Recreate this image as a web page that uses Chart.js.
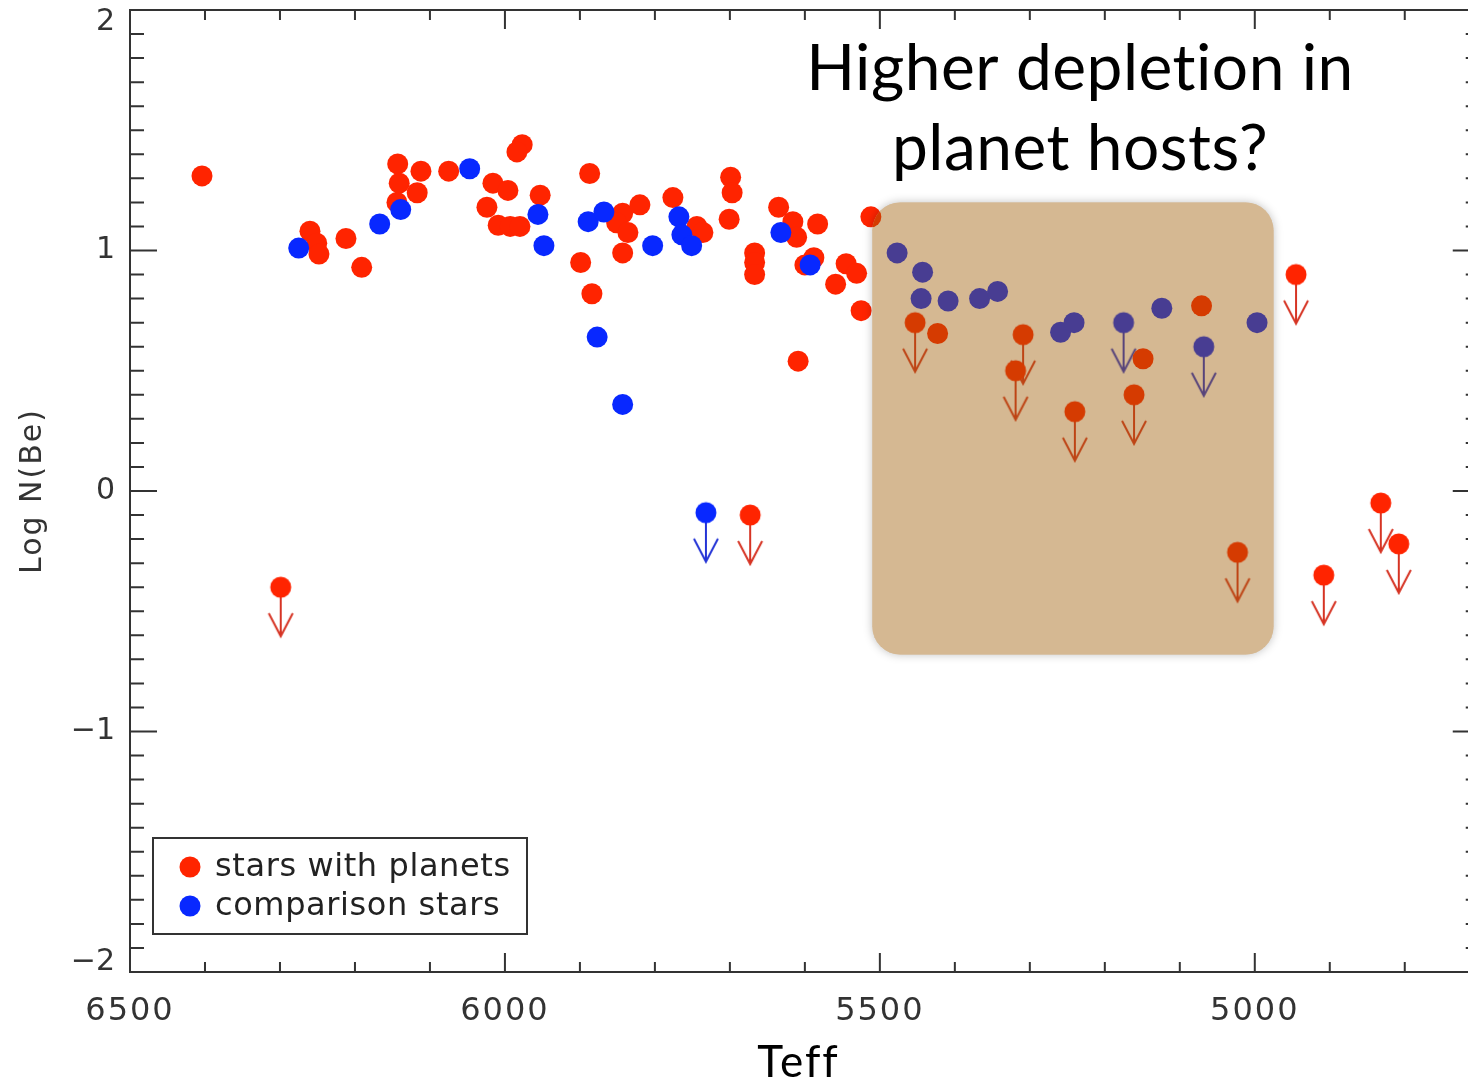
<!DOCTYPE html>
<html>
<head>
<meta charset="utf-8">
<title>Log N(Be) vs Teff</title>
<script src="https://cdn.jsdelivr.net/npm/chart.js@4.4.0/dist/chart.umd.min.js"></script>
<style>
  html, body { margin: 0; background: #fff; overflow: hidden; }
  #myChart { display: block; }
</style>
</head>
<body>
<canvas id="myChart" width="1468" height="1083"></canvas>
<script>
// stars with planets, Be detections
const planetTeff = [6404, 6260, 6251, 6248, 6212, 6191, 6143, 6141, 6144, 6112, 6117, 6075,
    5977, 5984, 6016, 5996, 6024, 6009, 5993, 5980, 5953, 5887, 5899, 5884, 5843, 5851,
    5836, 5820, 5843, 5776, 5744, 5736, 5699, 5697, 5701, 5667, 5667, 5667, 5635, 5616,
    5611, 5583, 5588, 5600, 5609, 5545, 5531, 5559, 5525, 5512, 5423, 5149, 5071];
const planetLogBe = [1.31, 1.08, 1.03, 0.985, 1.05, 0.93, 1.36, 1.28, 1.20, 1.33, 1.24, 1.33,
    1.44, 1.41, 1.28, 1.25, 1.18, 1.105, 1.10, 1.10, 1.23, 1.32, 0.95, 0.82, 1.155, 1.115,
    1.075, 1.19, 0.99, 1.22, 1.10, 1.075, 1.305, 1.24, 1.13, 0.99, 0.95, 0.90, 1.18, 1.12,
    1.055, 1.11, 0.97, 0.94, 0.54, 0.945, 0.905, 0.86, 0.75, 1.14, 0.655, 0.55, 0.77];

// stars with planets, upper limits
const planetLimTeff = [6299, 5673, 5453, 5309, 5319, 5240, 5161, 5023, 4945, 4908, 4832, 4808];
const planetLimLogBe = [-0.40, -0.10, 0.70, 0.65, 0.50, 0.33, 0.40, -0.255, 0.90, -0.35, -0.05, -0.22];

// comparison stars, Be detections
const compTeff = [6275, 6167, 6139, 6047, 5956, 5948, 5877, 5843, 5889, 5868, 5803, 5768,
    5764, 5751, 5632, 5593, 5477, 5443, 5445, 5409, 5367, 5343, 5259, 5241, 5124, 4997];
const compLogBe = [1.01, 1.11, 1.17, 1.34, 1.15, 1.02, 0.64, 0.36, 1.12, 1.16, 1.02, 1.14,
    1.065, 1.02, 1.075, 0.94, 0.99, 0.91, 0.80, 0.79, 0.80, 0.83, 0.66, 0.70, 0.76, 0.70];

// comparison stars, upper limits
const compLimTeff = [5732, 5175, 5068];
const compLimLogBe = [-0.09, 0.70, 0.60];

const xTicks = [6500, 6000, 5500, 5000];
const yTicks = [-2, -1, 0, 1, 2];

const RED = 'rgb(255, 36, 0)';
const BLUE = 'rgb(8, 40, 255)';

// the original frame ends at 4700 K, just past the right edge of the picture
const TEFF_END = 4700;
const TEFF_VISIBLE = 4717;

// shaded region, in data units
const highlight = { teffFrom: 5510, teffTo: 4975, logTop: 1.2, logBottom: -0.68 };

const toPoints = (xs, ys) => xs.map((x, i) => ({ x: x, y: ys[i] }));

// dot with a downward arrow, centred on the dot so chart.js places it right
function limitMarker(dotColor, arrowColor) {
    const c = document.createElement('canvas');
    c.width = 32;
    c.height = 104;
    const g = c.getContext('2d');
    const cx = 16, cy = 52, tip = 101;
    g.strokeStyle = arrowColor;
    g.lineWidth = 2;
    g.beginPath();
    g.moveTo(cx, cy);
    g.lineTo(cx, tip);
    g.moveTo(cx - 12, tip - 23);
    g.lineTo(cx, tip);
    g.lineTo(cx + 12, tip - 23);
    g.stroke();
    g.fillStyle = dotColor;
    g.beginPath();
    g.arc(cx, cy, 10.5, 0, Math.PI * 2);
    g.fill();
    return c;
}

const highlightPlugin = {
    id: 'highlight',
    afterDatasetsDraw(chart) {
        const { ctx, scales: { x, y } } = chart;
        const x0 = x.getPixelForValue(highlight.teffFrom);
        const x1 = x.getPixelForValue(highlight.teffTo);
        const y0 = y.getPixelForValue(highlight.logTop);
        const y1 = y.getPixelForValue(highlight.logBottom);
        // soft edge, outside the box only
        ctx.save();
        ctx.beginPath();
        ctx.rect(0, 0, chart.width, chart.height);
        ctx.roundRect(x0, y0, x1 - x0, y1 - y0, 28);
        ctx.clip('evenodd');
        ctx.shadowColor = 'rgba(0, 0, 0, 0.25)';
        ctx.shadowBlur = 10;
        ctx.fillStyle = '#d4b894';
        ctx.beginPath();
        ctx.roundRect(x0, y0, x1 - x0, y1 - y0, 28);
        ctx.fill();
        ctx.restore();

        ctx.save();
        ctx.fillStyle = 'rgba(158, 90, 2, 0.43)';
        ctx.beginPath();
        ctx.roundRect(x0, y0, x1 - x0, y1 - y0, 28);
        ctx.fill();
        ctx.restore();
        // x axis is drawn after this (z: 1), without the wide spacing
        ctx.letterSpacing = '0px';
    }
};

const framePlugin = {
    id: 'frame',
    beforeDraw(chart) {
        // spaced-out lettering of the y title
        chart.ctx.letterSpacing = '2px';
    },
    afterDraw(chart) {
        const { ctx, chartArea: a, scales: { x, y } } = chart;
        const xr = x.getPixelForValue(TEFF_END);
        ctx.save();
        ctx.strokeStyle = '#333';
        ctx.lineWidth = 2;
        ctx.strokeRect(a.left, a.top, xr - a.left, a.bottom - a.top);
        ctx.beginPath();
        for (let t = 6500; t >= TEFF_END; t -= 100) {
            const px = x.getPixelForValue(t);
            const len = t % 500 === 0 ? 19 : 10;
            ctx.moveTo(px, a.bottom);
            ctx.lineTo(px, a.bottom - len);
            ctx.moveTo(px, a.top);
            ctx.lineTo(px, a.top + len);
        }
        for (let i = -20; i <= 20; i++) {
            const py = y.getPixelForValue(i / 10);
            const len = i % 10 === 0 ? 27 : 14;
            ctx.moveTo(a.left, py);
            ctx.lineTo(a.left + len, py);
            ctx.moveTo(xr, py);
            ctx.lineTo(xr - len, py);
        }
        ctx.stroke();

        // y tick labels, end ones kept inside the frame
        ctx.letterSpacing = '0px';
        ctx.fillStyle = '#333';
        ctx.font = '30px "DejaVu Sans"';
        ctx.textAlign = 'right';
        ctx.textBaseline = 'middle';
        yTicks.forEach(v => {
            const py = Math.min(Math.max(y.getPixelForValue(v), a.top + 12), a.bottom - 10);
            ctx.fillText(String(v).replace('-', '\u2212'), a.left - 15, py);
        });

        // legend box
        ctx.textAlign = 'left';
        ctx.fillStyle = '#fff';
        ctx.fillRect(153, 838, 374, 96);
        ctx.strokeRect(153, 838, 374, 96);
        ctx.font = '32px "DejaVu Sans"';
        ctx.letterSpacing = '0.6px';
        chart.data.datasets.slice(0, 2).forEach((ds, i) => {
            const ly = 867 + i * 39;
            ctx.fillStyle = ds.backgroundColor;
            ctx.beginPath();
            ctx.arc(190, ly, 10.5, 0, Math.PI * 2);
            ctx.fill();
            ctx.fillStyle = '#222';
            ctx.fillText(ds.label, 215, ly + 1);
        });

        // note
        ctx.letterSpacing = '0.5px';
        ctx.fillStyle = '#000';
        ctx.textAlign = 'center';
        ctx.textBaseline = 'alphabetic';
        ctx.font = '64px Lato';
        ctx.fillText('Higher depletion in', 1080, 90);
        ctx.fillText('planet hosts?', 1080, 170);
        ctx.restore();
    }
};

const zeroPad = scale => {
    scale.paddingTop = 0;
    scale.paddingBottom = 0;
    scale.paddingLeft = 0;
    scale.paddingRight = 0;
};

const ctx = document.getElementById('myChart').getContext('2d');
const myChart = new Chart(ctx, {
    type: 'scatter',
    data: {
        datasets: [{
            label: 'stars with planets',
            data: toPoints(planetTeff, planetLogBe),
            backgroundColor: RED,
            borderWidth: 0,
            pointRadius: 10.5,
            order: 1
        }, {
            label: 'comparison stars',
            data: toPoints(compTeff, compLogBe),
            backgroundColor: BLUE,
            borderWidth: 0,
            pointRadius: 10.5,
            order: 0
        }, {
            label: 'stars with planets (upper limits)',
            data: toPoints(planetLimTeff, planetLimLogBe),
            backgroundColor: RED,
            pointStyle: limitMarker(RED, 'rgb(214, 52, 36)'),
            pointRadius: 10.5,
            order: 2
        }, {
            label: 'comparison stars (upper limits)',
            data: toPoints(compLimTeff, compLimLogBe),
            backgroundColor: BLUE,
            pointStyle: limitMarker(BLUE, 'rgb(36, 52, 214)'),
            pointRadius: 10.5,
            order: 3
        }]
    },
    options: {
        responsive: false,
        animation: false,
        events: [],
        layout: { autoPadding: false, padding: { top: 10, left: 0, right: 1, bottom: 0 } },
        plugins: {
            legend: { display: false },
            tooltip: { enabled: false }
        },
        scales: {
            x: {
                type: 'linear',
                reverse: true,
                min: TEFF_VISIBLE,
                max: 6500,
                z: 1,
                grid: { display: false, drawTicks: false },
                border: { display: false },
                afterBuildTicks: scale => { scale.ticks = xTicks.map(v => ({ value: v })); },
                afterFit: scale => { scale.height = 111; zeroPad(scale); },
                ticks: {
                    padding: 20,
                    color: '#333',
                    font: { family: 'DejaVu Sans', size: 32 },
                    callback: v => String(v)
                },
                title: {
                    display: true,
                    text: 'Teff',
                    color: '#000',
                    padding: { top: 0, bottom: 0 },
                    font: { family: 'Lato', size: 44, lineHeight: 0.9 }
                }
            },
            y: {
                min: -2,
                max: 2,
                grid: { display: false, drawTicks: false },
                border: { display: false },
                afterBuildTicks: scale => { scale.ticks = yTicks.map(v => ({ value: v })); },
                afterFit: scale => { scale.width = 130; zeroPad(scale); },
                ticks: { display: false },
                title: {
                    display: true,
                    text: 'Log N(Be)',
                    color: '#333',
                    padding: { top: 15, bottom: 0 },
                    font: { family: 'DejaVu Sans', size: 30 }
                }
            }
        }
    },
    plugins: [highlightPlugin, framePlugin]
});
</script>
</body>
</html>
